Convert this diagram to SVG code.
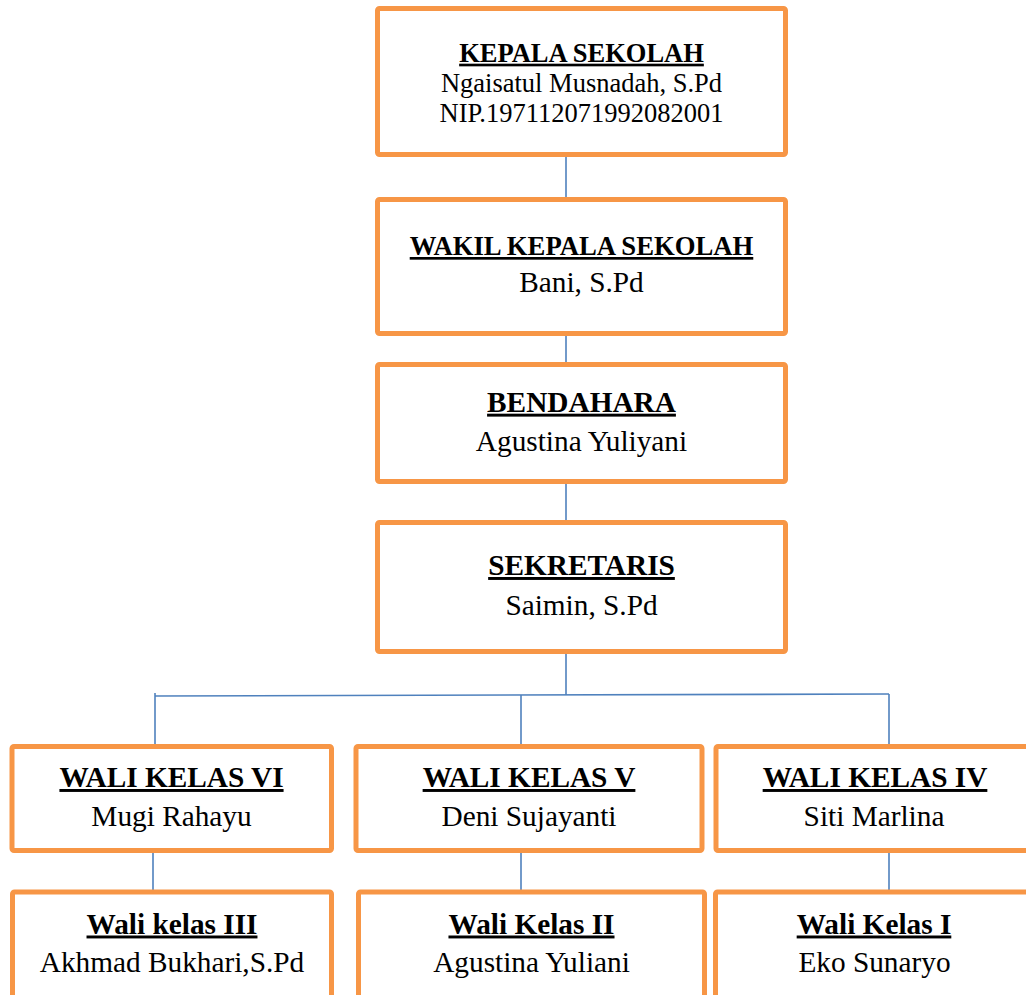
<svg xmlns="http://www.w3.org/2000/svg" width="1026" height="995" viewBox="0 0 1026 995">
<style>
.box{fill:#FFFFFF;stroke:#F79646;stroke-width:5;}
.con{stroke:#4F81BD;stroke-width:1.6;fill:none;}
.t{font-family:"Liberation Serif","Times New Roman",serif;font-weight:bold;text-decoration:underline;fill:#000;text-anchor:middle;font-size:29.3px;}
.n{font-family:"Liberation Serif","Times New Roman",serif;fill:#000;text-anchor:middle;font-size:29.3px;}
</style>
<rect width="1026" height="995" fill="#FFFFFF"/>
<g id="connectors">
<line class="con" x1="566" y1="155" x2="566" y2="198"/>
<line class="con" x1="566" y1="331" x2="566" y2="365"/>
<line class="con" x1="566" y1="476" x2="566" y2="521"/>
<line class="con" x1="566" y1="650" x2="566" y2="695"/>
<line class="con" x1="155" y1="696" x2="889" y2="694"/>
<line class="con" x1="155" y1="693" x2="155" y2="745"/>
<line class="con" x1="521" y1="695" x2="521" y2="745"/>
<line class="con" x1="889" y1="694" x2="889" y2="745"/>
<line class="con" x1="153" y1="847" x2="153" y2="891"/>
<line class="con" x1="521" y1="848" x2="521" y2="891"/>
<line class="con" x1="889" y1="847" x2="889" y2="891"/>
</g>
<g id="kepala">
<rect class="box" x="377.5" y="8.5" width="408" height="146" rx="2"/>
<text class="t" x="581.5" y="61.7" style="font-size:26.5px">KEPALA SEKOLAH</text>
<text class="n" x="581.5" y="91.7" style="font-size:26.5px">Ngaisatul Musnadah, S.Pd</text>
<text class="n" x="581.5" y="121.7" style="font-size:26.5px">NIP.197112071992082001</text>
</g>
<g id="wakil">
<rect class="box" x="377.5" y="199.5" width="408" height="134" rx="2"/>
<text class="t" x="581.5" y="255" style="font-size:26.7px">WAKIL KEPALA SEKOLAH</text>
<text class="n" x="581.5" y="292.3">Bani, S.Pd</text>
</g>
<g id="bendahara">
<rect class="box" x="377.5" y="364.5" width="408" height="117" rx="2"/>
<text class="t" x="581.5" y="411.7">BENDAHARA</text>
<text class="n" x="581.5" y="450.7">Agustina Yuliyani</text>
</g>
<g id="sekretaris">
<rect class="box" x="377.5" y="522.5" width="408" height="129" rx="2"/>
<text class="t" x="581.5" y="575">SEKRETARIS</text>
<text class="n" x="581.5" y="615">Saimin, S.Pd</text>
</g>
<g id="wali6">
<rect class="box" x="12" y="746.5" width="319.5" height="104" rx="2"/>
<text class="t" x="171.5" y="787">WALI KELAS VI</text>
<text class="n" x="171.5" y="825.5">Mugi Rahayu</text>
</g>
<g id="wali5">
<rect class="box" x="356" y="746.5" width="346" height="104" rx="2"/>
<text class="t" x="529" y="787">WALI KELAS V</text>
<text class="n" x="529" y="825.5">Deni Sujayanti</text>
</g>
<g id="wali4">
<rect class="box" x="716" y="746.5" width="318" height="104" rx="2"/>
<text class="t" x="875" y="787">WALI KELAS IV</text>
<text class="n" x="874" y="825.5">Siti Marlina</text>
</g>
<g id="wali3">
<rect class="box" x="12.5" y="892" width="319" height="120" rx="2"/>
<text class="t" x="172" y="933.5">Wali kelas III</text>
<text class="n" x="172" y="972">Akhmad Bukhari,S.Pd</text>
</g>
<g id="wali2">
<rect class="box" x="358.5" y="892" width="346" height="120" rx="2"/>
<text class="t" x="531.5" y="933.5">Wali Kelas II</text>
<text class="n" x="531.5" y="972">Agustina Yuliani</text>
</g>
<g id="wali1">
<rect class="box" x="715.5" y="892" width="318" height="120" rx="2"/>
<text class="t" x="874" y="933.5">Wali Kelas I</text>
<text class="n" x="874.5" y="972">Eko Sunaryo</text>
</g>
</svg>
